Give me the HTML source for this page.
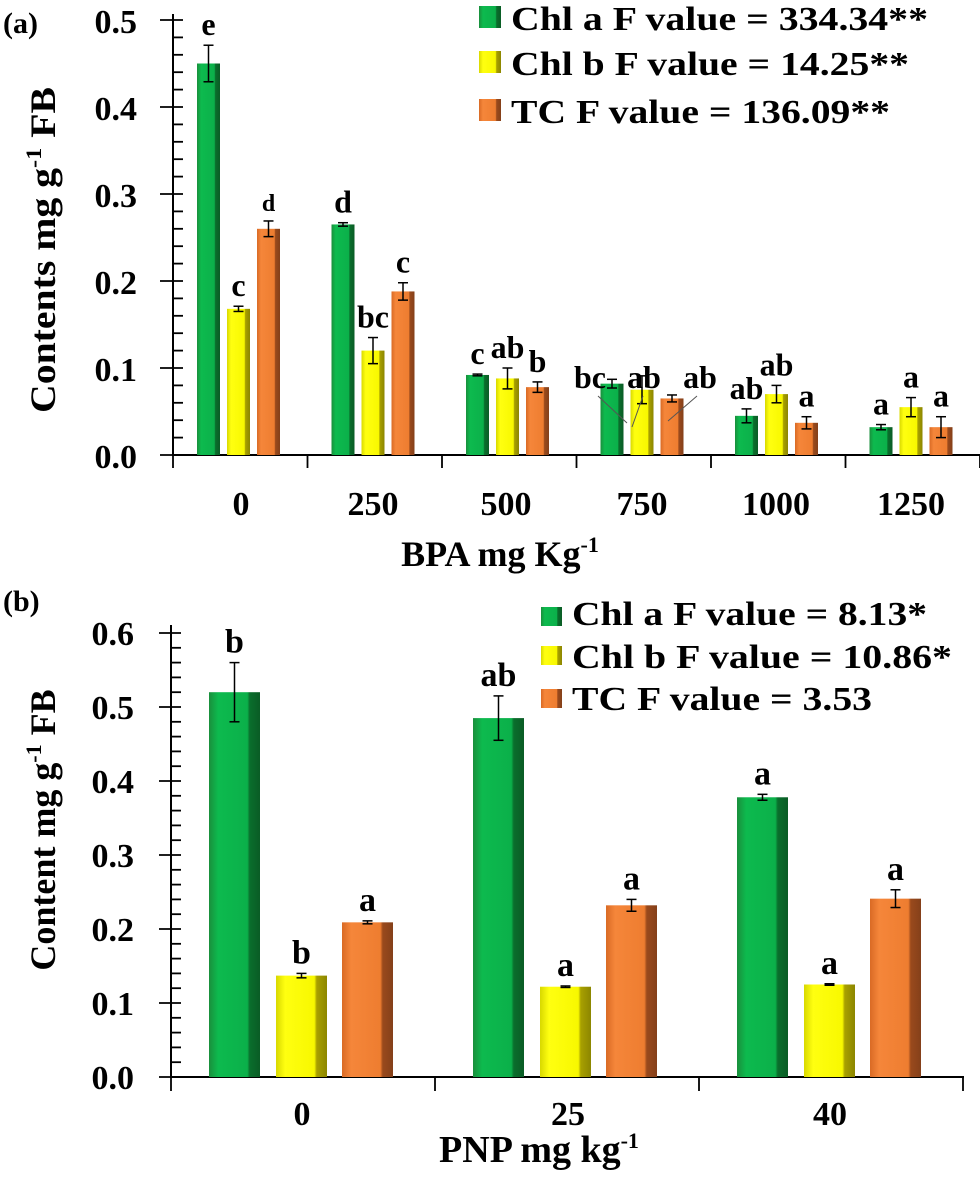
<!DOCTYPE html><html><head><style>body{margin:0;background:#fff}svg{display:block;font-family:"Liberation Serif",serif;font-weight:bold}</style></head><body>
<svg width="980" height="1183" viewBox="0 0 980 1183">
<defs>
<linearGradient id="g" x1="0" x2="1"><stop offset="0" stop-color="#1a8f3c"/><stop offset=".18" stop-color="#0dba4e"/><stop offset=".75" stop-color="#0bb04a"/><stop offset=".8" stop-color="#0a6e2c"/><stop offset="1" stop-color="#0a5c25"/></linearGradient>
<linearGradient id="y" x1="0" x2="1"><stop offset="0" stop-color="#d8d800"/><stop offset=".18" stop-color="#ffff10"/><stop offset=".75" stop-color="#f8f800"/><stop offset=".8" stop-color="#a8a000"/><stop offset="1" stop-color="#8c8600"/></linearGradient>
<linearGradient id="o" x1="0" x2="1"><stop offset="0" stop-color="#d96a25"/><stop offset=".18" stop-color="#f5863a"/><stop offset=".75" stop-color="#ee7d30"/><stop offset=".8" stop-color="#9a4a1c"/><stop offset="1" stop-color="#84401a"/></linearGradient>
</defs>
<g font-size="34" text-anchor="end" fill="#000">
<text x="3" y="33" text-anchor="start" font-size="30">(a)</text>
<text x="137" y="468">0.0</text><text x="137" y="381">0.1</text><text x="137" y="294">0.2</text><text x="137" y="207">0.3</text><text x="137" y="120">0.4</text><text x="137" y="33">0.5</text>
<text x="3" y="611" text-anchor="start" font-size="30">(b)</text>
<text x="134" y="1089">0.0</text><text x="134" y="1015">0.1</text><text x="134" y="941">0.2</text><text x="134" y="867">0.3</text><text x="134" y="793">0.4</text><text x="134" y="719">0.5</text><text x="134" y="645">0.6</text>
</g>
<g stroke="#000" stroke-width="2" fill="none">
<path d="M173 14V455H980"/>
<path d="M171 625V1077H964"/>
</g>
<g id="ticks" stroke="#000" stroke-width="1.8"></g>
<g id="bars"></g>
<g font-size="34" text-anchor="middle">
<text x="241" y="515">0</text><text x="373" y="515">250</text><text x="506" y="515">500</text><text x="642" y="515">750</text><text x="776" y="515">1000</text><text x="911" y="515">1250</text>
<text x="500" y="566" font-size="36">BPA mg Kg<tspan dy="-14" font-size="22">-1</tspan></text>
<text x="302" y="1125">0</text><text x="568" y="1125">25</text><text x="830" y="1125">40</text>
<text x="539" y="1162" font-size="38">PNP mg kg<tspan dy="-14" font-size="22">-1</tspan></text>
<text transform="translate(55 250) rotate(-90)" font-size="36" textLength="326" lengthAdjust="spacingAndGlyphs">Contents mg g<tspan dy="-14" font-size="22">-1</tspan><tspan dy="14"> FB</tspan></text>
<text transform="translate(55 830) rotate(-90)" font-size="36">Content mg g<tspan dy="-14" font-size="22">-1</tspan><tspan dy="14"> FB</tspan></text>
</g>
<g font-size="34">
<rect x="479" y="6" width="22" height="22" fill="url(#g)"/><text x="511" y="30" textLength="417" lengthAdjust="spacingAndGlyphs">Chl a F value = 334.34**</text>
<rect x="479" y="51" width="22" height="22" fill="url(#y)"/><text x="511" y="75" textLength="398" lengthAdjust="spacingAndGlyphs">Chl b F value = 14.25**</text>
<rect x="479" y="99" width="22" height="22" fill="url(#o)"/><text x="511" y="123" textLength="379" lengthAdjust="spacingAndGlyphs">TC F value = 136.09**</text>
<rect x="541" y="607" width="21" height="19" fill="url(#g)"/><text x="572" y="625" textLength="355" lengthAdjust="spacingAndGlyphs">Chl a F value = 8.13*</text>
<rect x="541" y="646" width="21" height="19" fill="url(#y)"/><text x="572" y="668" textLength="380" lengthAdjust="spacingAndGlyphs">Chl b F value = 10.86*</text>
<rect x="541" y="689" width="21" height="19" fill="url(#o)"/><text x="572" y="710" textLength="300" lengthAdjust="spacingAndGlyphs">TC F value = 3.53</text>
</g>
<g stroke="#555" stroke-width="1"><path d="M598 396L627 423M643 396L632 427M697 396L668 421"/></g>
</svg>
<script>
const NS="http://www.w3.org/2000/svg";
const T=document.getElementById('ticks'),B=document.getElementById('bars');
function ln(x1,y1,x2,y2,p){const l=document.createElementNS(NS,'line');l.setAttribute('x1',x1);l.setAttribute('y1',y1);l.setAttribute('x2',x2);l.setAttribute('y2',y2);(p||T).appendChild(l);return l;}
for(let i=0;i<=25;i++){const y=455-i*17.4;if(i%5)ln(173,y,183,y);else ln(160,y,183,y);}
for(let i=0;i<=30;i++){const y=1077-i*14.8;if(i%5)ln(171,y,181,y);else ln(159,y,181,y);}
for(let k=0;k<=6;k++){const x=173+k*134.5;ln(x,455,x,468);}
for(let k=0;k<=3;k++){const x=171+k*264;ln(x,1077,x,1091);}
function txt(x,y,s,fs){const t=document.createElementNS(NS,'text');t.setAttribute('x',x);t.setAttribute('y',y);t.setAttribute('text-anchor','middle');t.setAttribute('font-size',fs);t.textContent=s;B.appendChild(t);}
function bar(x,w,base,top,fill,err,lab,fs){const r=document.createElementNS(NS,'rect');r.setAttribute('x',x);r.setAttribute('y',top);r.setAttribute('width',w);r.setAttribute('height',base-top);r.setAttribute('fill',fill);B.appendChild(r);
const g=document.createElementNS(NS,'g');g.setAttribute('stroke','#000');g.setAttribute('stroke-width','1.5');B.appendChild(g);const c=x+w/2;
ln(c,top-err,c,top+err,g);ln(c-5,top-err,c+5,top-err,g);ln(c-5,top+err,c+5,top+err,g);
if(lab)txt(c,top-err-10,lab,fs);}
const A=[[.45,.265,.092,.082,.045,.032],[.168,.12,.088,.075,.07,.055],[.26,.188,.078,.065,.037,.032]];
const AE=[[.021,.002,.001,.005,.008,.003],[.003,.015,.012,.016,.01,.011],[.009,.01,.006,.004,.007,.012]];
const AL=[["e","d","c","bc","ab","a"],["c","bc","ab","ab","ab","a"],["d","c","b","ab","a","a"]];
const F=['url(#g)','url(#y)','url(#o)'];
for(let k=0;k<6;k++)for(let s=0;s<3;s++){const x=173+k*134.5+24+s*30;const top=455-A[s][k]*870;
let lab=AL[s][k];if(k==3)lab=null;bar(x,23,455,top,F[s],AE[s][k]*870,lab,(k==0&&s==2)?24:32);}
txt(590,388,"bc",32);txt(644,388,"ab",32);txt(700,388,"ab",32);
const P=[[.52,.485,.378],[.137,.122,.125],[.209,.232,.241]];
const PE=[[.04,.03,.004],[.003,.001,.001],[.002,.008,.012]];
const PL=[["b","ab","a"],["b","a","a"],["a","a","a"]];
const off=[38,105,171];
for(let k=0;k<3;k++)for(let s=0;s<3;s++){const x=171+k*264+off[s];const top=1077-P[s][k]*740;bar(x,51,1077,top,F[s],PE[s][k]*740,PL[s][k],34);}
</script>
</body></html>
